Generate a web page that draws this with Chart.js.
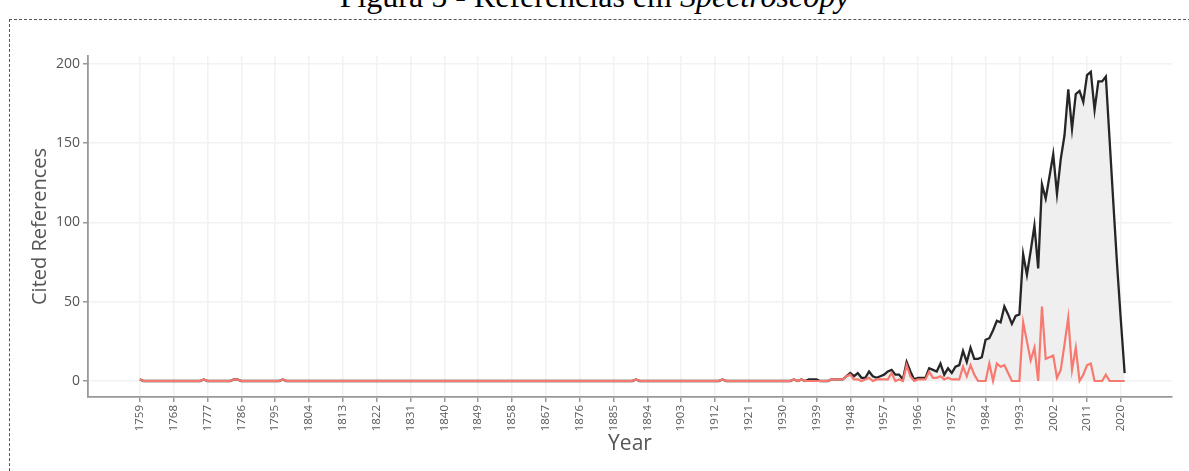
<!DOCTYPE html>
<html>
<head>
<meta charset="utf-8">
<script src="https://cdn.jsdelivr.net/npm/chart.js@4.4.0/dist/chart.umd.min.js"></script>
<style>
html,body{margin:0;padding:0;background:#fff;width:1189px;height:471px;overflow:hidden;position:relative}
#cap{position:absolute;left:0;top:-20px;width:1189px;text-align:center;font-family:"Liberation Serif",serif;font-size:32px;line-height:32px;color:#000;white-space:nowrap}
#frame{position:absolute;left:9px;top:19px;width:1250px;height:500px;border:1px dashed #555}
#chart{position:absolute;left:0;top:0}
</style>
</head>
<body>
<div id="cap">Figura 5 - Referências em <i>Spectroscopy</i></div>
<div id="frame"></div>
<canvas id="chart" width="1189" height="471"></canvas>
<script>
document.addEventListener("DOMContentLoaded", () => {

const firstYear=1759;
const lastYear=2021;

// 1759-1928, both lines sit on top of each other here
const earlyRefs=[
1,0,0,0,0,0,0,0,0,0,
0,0,0,0,0,0,0,1,0,0,
0,0,0,0,0,1,1,0,0,0,
0,0,0,0,0,0,0,0,1,0,
0,0,0,0,0,0,0,0,0,0,
0,0,0,0,0,0,0,0,0,0,
0,0,0,0,0,0,0,0,0,0,
0,0,0,0,0,0,0,0,0,0,
0,0,0,0,0,0,0,0,0,0,
0,0,0,0,0,0,0,0,0,0,
0,0,0,0,0,0,0,0,0,0,
0,0,0,0,0,0,0,0,0,0,
0,0,0,0,0,0,0,0,0,0,
0,0,1,0,0,0,0,0,0,0,
0,0,0,0,0,0,0,0,0,0,
0,0,0,0,0,1,0,0,0,0,
0,0,0,0,0,0,0,0,0,0
];

// 1929-2021 black line
const citedLate=[
0,0,0,0,1,0,1,0,1,1,
1,0,0,0,1,1,1,1,3,5,
3,5,2,2,6,3,2,3,4,6,
7,4,4,1,12,6,1,2,2,2,
8,7,6,11,4,8,5,9,10,19,
12,21,14,14,15,26,27,32,38,37,
47,42,36,41,42,80,67,82,98,71,
124,115,129,143,118,140,155,184,159,181,
183,176,193,195,171,189,189,192,152,112,
73,38,5
];

// 1929-2021 red line
const deviationLate=[
0,0,0,0,1,0,1,0,0,0,
0,0,0,0,1,1,1,1,3,4,
1,1,0,1,2,0,1,1,1,1,
5,0,1,0,10,3,0,1,1,1,
6,2,2,3,1,2,1,1,1,9,
3,10,4,0,0,0,11,0,11,9,
10,5,0,0,0,37,25,13,21,0,
47,14,15,16,2,7,23,40,7,21,
0,4,10,11,0,0,0,4,0,0,
0,0,0
];

const xTicks=[1759,1768,1777,1786,1795,1804,1813,1822,1831,1840,1849,1858,1867,1876,1885,
1894,1903,1912,1921,1930,1939,1948,1957,1966,1975,1984,1993,2002,2011,2020];
const yTicks=[0,50,100,150,200];

const years=[];
for(let y=firstYear;y<=lastYear;y++) years.push(y);

const cited=earlyRefs.concat(citedLate);
const deviation=earlyRefs.concat(deviationLate);

const ctx=document.getElementById("chart");

new Chart(ctx,{

type:"line",

data:{
datasets:[
{
data:years.map((y,i)=>({x:y,y:deviation[i]})),
borderColor:"#f77a71",
borderWidth:2.2,
pointRadius:0,
fill:false,
order:0
},
{
data:years.map((y,i)=>({x:y,y:cited[i]})),
borderColor:"#262626",
backgroundColor:"#efefef",
borderWidth:2.3,
pointRadius:0,
fill:"origin",
order:1
}
]
},

options:{

responsive:false,
animation:false,

layout:{padding:{left:28,right:17,top:56,bottom:14}},

plugins:{
legend:{display:false},
tooltip:{enabled:false}
},

scales:{

x:{
type:"linear",
min:1745.2,
max:2033.6,
afterBuildTicks:s=>{s.ticks=xTicks.map(v=>({value:v}));},
afterFit:s=>{s.height=60;},
grid:{color:"#f2f2f2",lineWidth:1.5,tickColor:"#999",tickLength:5},
border:{color:"#999",width:1.8},
ticks:{
autoSkip:false,
minRotation:90,
maxRotation:90,
padding:3,
color:"#5a5a5a",
font:{family:"Open Sans",size:11.5},
callback:v=>String(v)
},
title:{display:true,text:"Year",color:"#555",font:{family:"Open Sans",size:21},padding:{top:0,bottom:0}}
},

y:{
min:-10.1,
max:205,
afterBuildTicks:s=>{s.ticks=yTicks.map(v=>({value:v}));},
afterFit:s=>{s.width=60;},
grid:{color:"#f2f2f2",lineWidth:1.5,tickColor:"#999",tickLength:5},
border:{color:"#999",width:1.8},
ticks:{
padding:3,
color:"#555",
font:{family:"Open Sans",size:14}
},
title:{display:true,text:"Cited References",color:"#555",font:{family:"Open Sans",size:20},padding:{top:0,bottom:0}}
}

}

}

});

});
</script>
</body>
</html>
